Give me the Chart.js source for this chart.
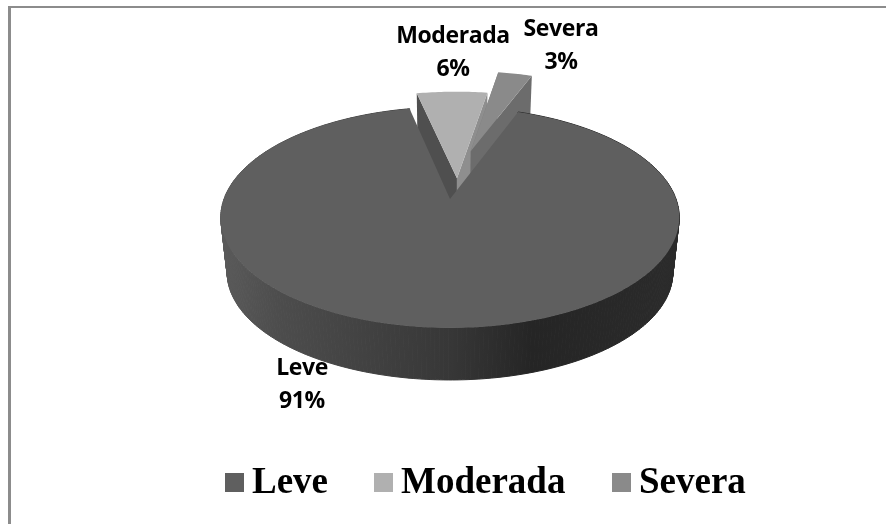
<!DOCTYPE html>
<html lang="pt">
<head>
<meta charset="utf-8">
<title>Leve, Moderada, Severa</title>
<script src="https://cdn.jsdelivr.net/npm/chart.js@4/dist/chart.umd.min.js"></script>
<style>
  html, body { margin: 0; padding: 0; background: #fff; overflow: hidden; }
  #moldura { position: absolute; left: 8px; top: 6px; width: 875px; height: 516px;
             border-top: 2px solid #8c8c8c; border-left: 3px solid #8c8c8c; }
  #grafico { position: absolute; left: 0; top: 0; }
</style>
</head>
<body>
<div id="moldura"></div>
<canvas id="grafico" width="886" height="524"></canvas>
<script>
// Dados do gráfico
const categorias = ['Leve', 'Moderada', 'Severa'];
const valores = [91, 6, 3];
const destaque = [0, 0.2, 0.5]; // afastamento de cada fatia, em fração do raio
const desvioLateral = [0, 0.036, -0.03]; // ajuste lateral das fatias destacadas

// Cores das fatias
const coresTopo = ['#5f5f5f', '#b0b0b0', '#8a8a8a'];
const coresFaceEsq = ['#4a4a4a', '#4f4f4f', '#7a7a7a'];
const coresFaceDir = ['#4a4a4a', '#8e8e8e', '#6c6c6c'];

// Perspectiva do disco
const perspectiva = 0.167;
const achatamento = 0.475;
const alturaBase = 55.7;
const escalaBase = 0.972;

function projetar(el, u, v, base) {
  const s = 1 / (1 - perspectiva * v);
  const k = base ? escalaBase : 1;
  return {
    x: el.x + el.outerRadius * k * u * s,
    y: el.y + (base ? alturaBase : 0) + el.outerRadius * achatamento * k * v * s
  };
}

// Pontos do contorno externo de uma fatia
function pontosArco(el, du, dv, base) {
  const passos = Math.ceil(el.circumference * 60);
  const pontos = [];
  for (let i = 0; i <= passos; i++) {
    const a = el.startAngle + el.circumference * i / passos;
    pontos.push(projetar(el, Math.cos(a) + du, Math.sin(a) + dv, base));
  }
  return pontos;
}

function preencher(ctx, pontos, cor) {
  ctx.beginPath();
  pontos.forEach((p, i) => i ? ctx.lineTo(p.x, p.y) : ctx.moveTo(p.x, p.y));
  ctx.closePath();
  ctx.fillStyle = cor;
  ctx.fill();
}

function desenharFatia(ctx, el, i) {
  const meio = (el.startAngle + el.endAngle) / 2;
  const du = Math.cos(meio) * destaque[i] + desvioLateral[i];
  const dv = Math.sin(meio) * destaque[i];
  const topo = pontosArco(el, du, dv, false);
  const base = pontosArco(el, du, dv, true);
  const centroTopo = projetar(el, du, dv, false);
  const centroBase = projetar(el, du, dv, true);

  if (el.circumference > Math.PI) {
    // parede externa, só a fatia grande aparece pela frente
    const grad = ctx.createLinearGradient(222, 0, 678, 0);
    grad.addColorStop(0, '#5a5a5a');
    grad.addColorStop(0.12, '#4d4d4d');
    grad.addColorStop(0.5, '#373737');
    grad.addColorStop(0.68, '#252525');
    grad.addColorStop(1, '#2b2b2b');
    ctx.strokeStyle = grad;
    ctx.lineWidth = 1;
    for (let k = 0; k < topo.length - 1; k++) {
      preencher(ctx, [topo[k], topo[k + 1], base[k + 1], base[k]], grad);
      ctx.stroke();
    }
  } else {
    // faces de corte das fatias destacadas
    preencher(ctx, [centroTopo, topo[0], base[0], centroBase], coresFaceEsq[i]);
    preencher(ctx, [centroTopo, topo[topo.length - 1], base[base.length - 1], centroBase], coresFaceDir[i]);
  }
  preencher(ctx, [centroTopo].concat(topo), coresTopo[i]);
}

// Desenha a pizza em 3D a partir da geometria calculada pelo Chart.js
const pizza3d = {
  id: 'pizza3d',
  beforeDatasetsDraw(chart) {
    const ctx = chart.ctx;
    const arcos = chart.getDatasetMeta(0).data;
    ctx.save();
    [1, 2, 0].forEach(i => desenharFatia(ctx, arcos[i], i));
    ctx.restore();
    return false;
  }
};

// Rótulos com categoria e percentual
const rotulos = {
  id: 'rotulos',
  afterDraw(chart, args, opts) {
    const ctx = chart.ctx;
    ctx.save();
    ctx.fillStyle = '#000';
    ctx.font = opts.fonte;
    ctx.letterSpacing = '-0.4px';
    ctx.textAlign = 'center';
    ctx.textBaseline = 'alphabetic';
    opts.posicoes.forEach((p, i) => {
      ctx.fillText(categorias[i], p.x, p.y);
      ctx.fillText(valores[i] + '%', p.x, p.y + opts.entrelinha);
    });
    ctx.restore();
  }
};

// Legenda inferior, o espaço entre caixa e texto é menor que o da legenda padrão
const legendaInferior = {
  id: 'legendaInferior',
  afterDraw(chart, args, opts) {
    const ctx = chart.ctx;
    ctx.save();
    ctx.font = opts.fonte;
    ctx.textAlign = 'left';
    ctx.textBaseline = 'alphabetic';
    opts.caixas.forEach((x, i) => {
      ctx.fillStyle = coresTopo[i];
      ctx.fillRect(x, opts.topo, opts.lado, opts.lado);
      ctx.fillStyle = '#000';
      ctx.fillText(categorias[i], x + opts.lado + opts.folga, opts.linha);
    });
    ctx.restore();
  }
};

new Chart(document.getElementById('grafico'), {
  type: 'pie',
  data: {
    labels: categorias,
    datasets: [{
      data: valores,
      backgroundColor: coresTopo,
      borderWidth: 0
    }]
  },
  options: {
    responsive: false,
    animation: false,
    rotation: 20.4,
    radius: 226,
    layout: { padding: { left: 14, bottom: 126 } },
    plugins: {
      legend: { display: false },
      tooltip: { enabled: false },
      rotulos: {
        fonte: 'bold 23px "Open Sans"',
        entrelinha: 33,
        posicoes: [{ x: 302, y: 375 }, { x: 453, y: 43 }, { x: 561, y: 36 }]
      },
      legendaInferior: {
        fonte: 'bold 37px "Liberation Serif"',
        caixas: [225, 374, 612],
        topo: 473,
        lado: 19,
        folga: 8,
        linha: 493
      }
    }
  },
  plugins: [pizza3d, rotulos, legendaInferior]
});
</script>
</body>
</html>
